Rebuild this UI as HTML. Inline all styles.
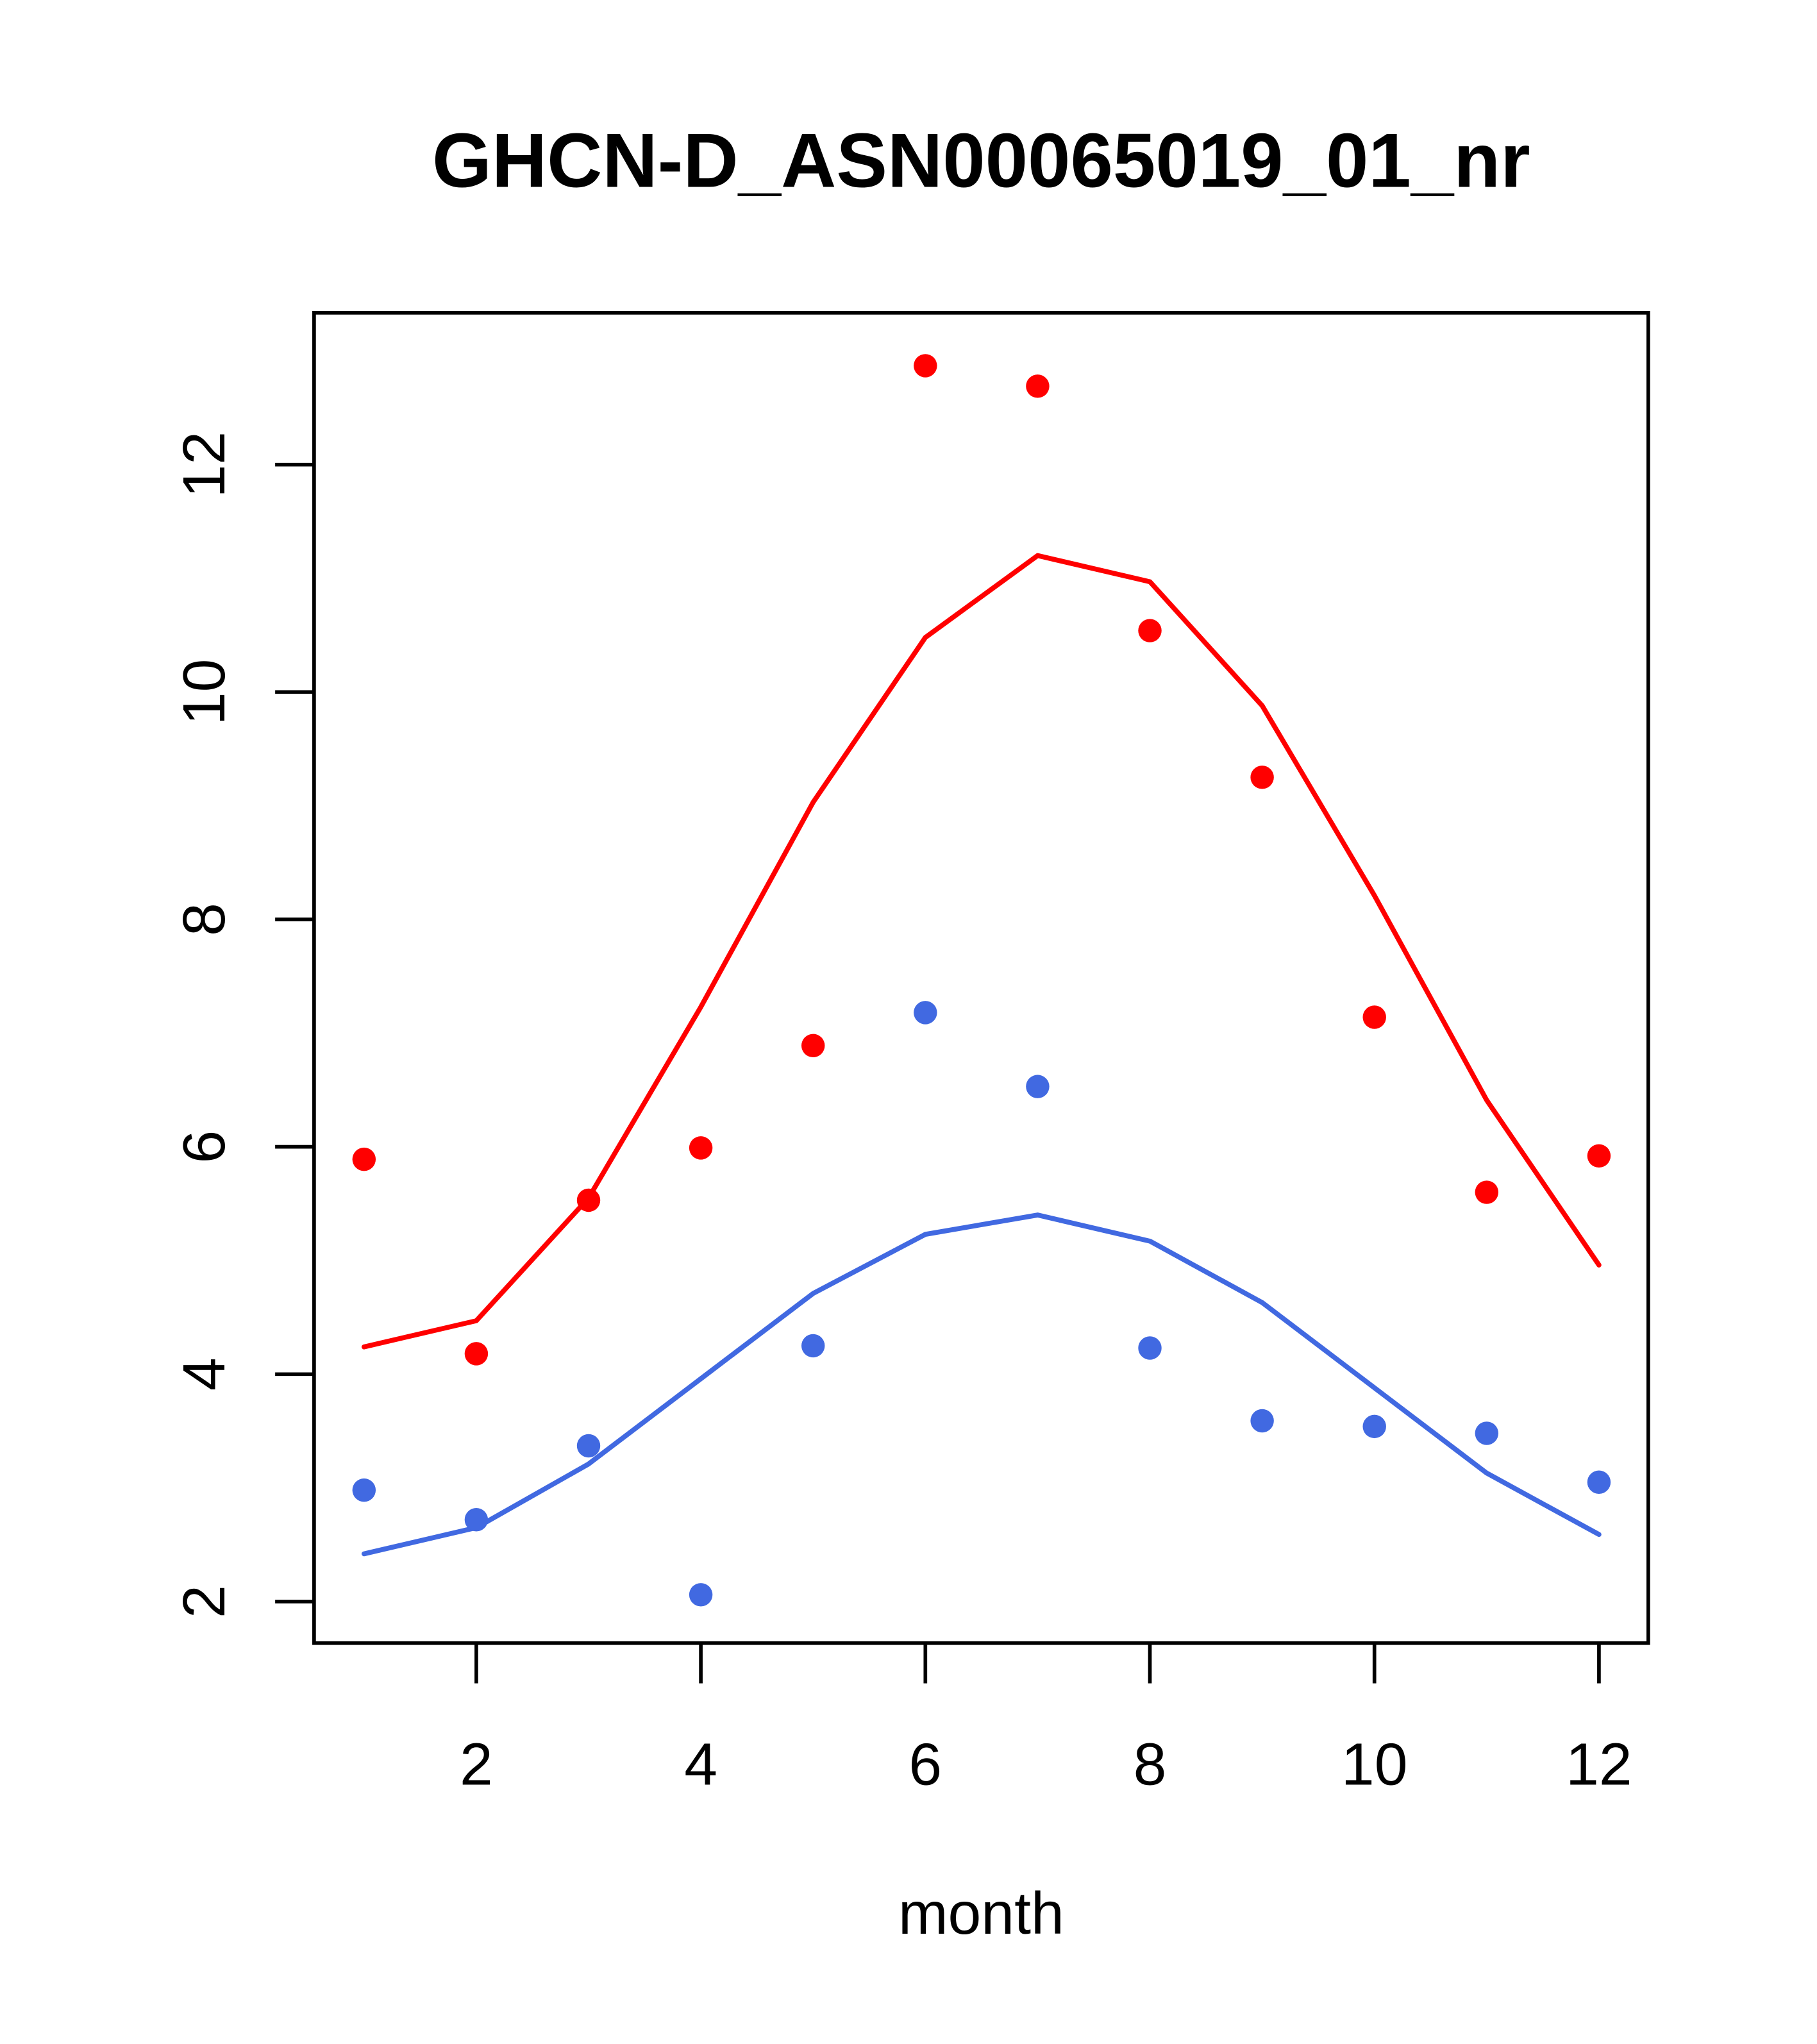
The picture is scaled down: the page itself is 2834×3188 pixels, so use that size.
<!DOCTYPE html>
<html><head><meta charset="utf-8"><style>html,body{margin:0;padding:0;background:#fff}svg{display:block}</style></head>
<body>
<svg id="chart" width="2834" height="3188" viewBox="0 0 1400 1574.9" preserveAspectRatio="none" xmlns="http://www.w3.org/2000/svg" font-family="'Liberation Sans', Arial, sans-serif">
<rect width="1400" height="1575" fill="#fff"/>
<text x="756" y="144" text-anchor="middle" font-size="59" font-weight="bold">GHCN-D_ASN00065019_01_nr</text>
<text x="756" y="1490" text-anchor="middle" font-size="46">month</text>
<rect x="242" y="241" width="1028" height="1025" fill="none" stroke="#000" stroke-width="2.8"/>
<g id="axes"></g>
<g id="marks"></g>
</svg>
<script>
const months=[1,2,3,4,5,6,7,8,9,10,11,12];
const redPoints=[5.89,4.18,5.53,5.99,6.89,12.87,12.69,10.54,9.25,7.14,5.60,5.92];
const redLine=[4.24,4.47,5.55,7.23,9.03,10.48,11.20,10.97,9.88,8.21,6.41,4.96];
const bluePoints=[2.98,2.72,3.37,2.06,4.25,7.18,6.53,4.23,3.59,3.54,3.48,3.05];
const blueLine=[2.42,2.65,3.21,3.96,4.71,5.23,5.40,5.17,4.63,3.88,3.13,2.59];
const xTicks=[2,4,6,8,10,12];
const yTicks=[2,4,6,8,10,12];
const NS="http://www.w3.org/2000/svg";
function sx(v){return 280.5+(v-1)*86.5;}
function sy(v){return 1234-(v-2)*87.6;}
function mk(tag,attrs,parent){const e=document.createElementNS(NS,tag);for(const k in attrs)e.setAttribute(k,attrs[k]);parent.appendChild(e);return e;}
const axes=document.getElementById('axes'),marks=document.getElementById('marks');
xTicks.forEach(t=>{
 const l=mk('line',{x1:sx(t),x2:sx(t),y1:1266,y2:1297,stroke:'#000','stroke-width':2.8},axes);
 
 
 const tx=mk('text',{x:sx(t),y:1375,'text-anchor':'middle','font-size':46},axes);tx.textContent=t;
 
 
});
yTicks.forEach(t=>{
 const l=mk('line',{x1:212,x2:242,y1:sy(t),y2:sy(t),stroke:'#000','stroke-width':2.8},axes);
 
 
 const tx=mk('text',{x:0,y:0,'text-anchor':'middle','font-size':46,transform:`translate(173,${sy(t)}) rotate(-90)`},axes);tx.textContent=t;
 
 
});
function line(vals,color,name){
 const p=mk('polyline',{points:vals.map((v,i)=>sx(months[i])+','+sy(v)).join(' '),fill:'none',stroke:color,'stroke-width':3.8,'stroke-linejoin':'round','stroke-linecap':'round'},marks);
 
 
}
function pts(vals,color,name){
 vals.forEach((v,i)=>{const c=mk('circle',{cx:sx(months[i]),cy:sy(v),r:9,fill:color},marks);
 
 });
}
line(redLine,'#ff0000','red-line');
line(blueLine,'#4169e1','blue-line');
pts(redPoints,'#ff0000','red-point');
pts(bluePoints,'#4169e1','blue-point');
</script>
</body></html>
